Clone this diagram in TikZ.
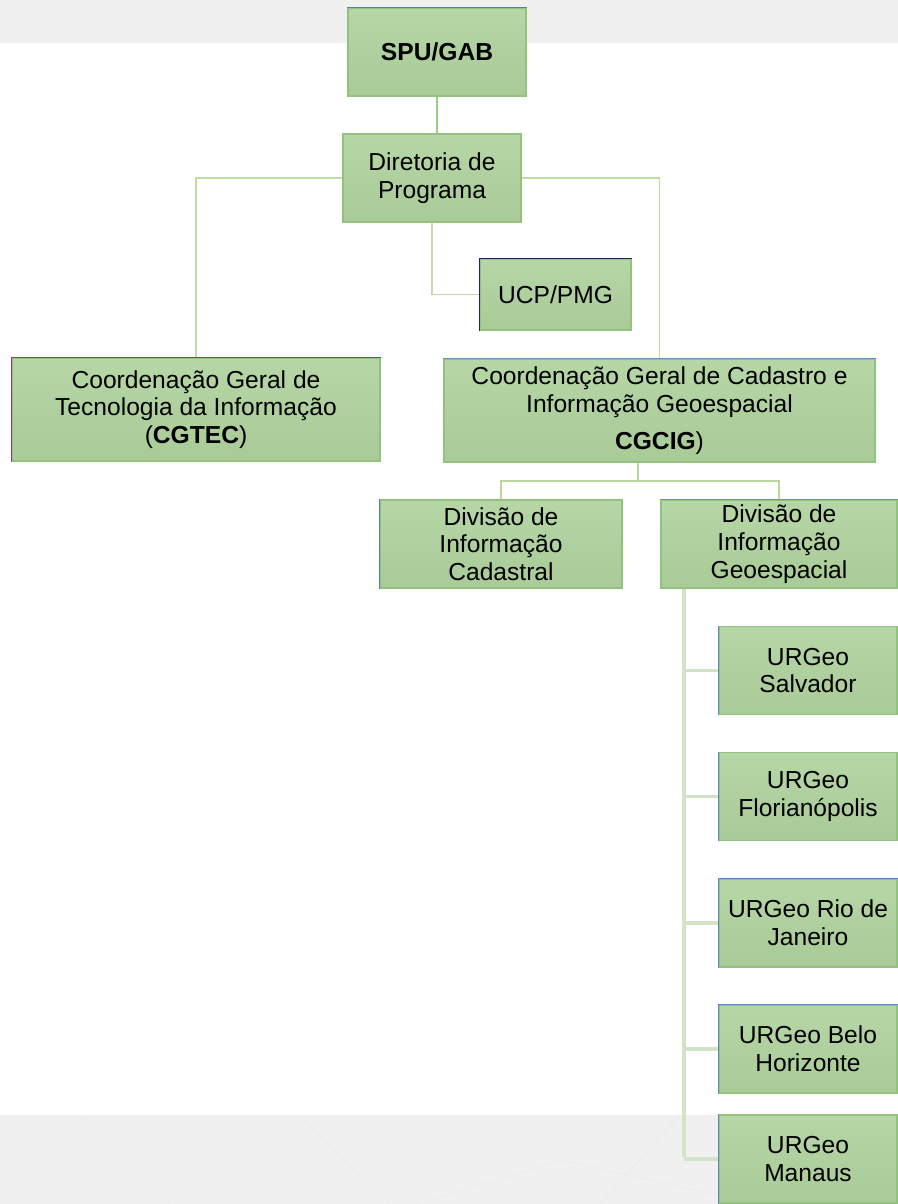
\documentclass[tikz,border=0pt]{standalone}
\usepackage{fontspec}
\setmainfont{Liberation Sans}

\definecolor{boxtop}{HTML}{B6D6A6}
\definecolor{boxbot}{HTML}{A9CB97}
\definecolor{boxline}{HTML}{93C27E}
\definecolor{linkgreen}{HTML}{C2DCA6}
\definecolor{trunkgreen}{HTML}{9CCB84}
\definecolor{spinegreen}{HTML}{D3E3C6}
\definecolor{edgeblue}{HTML}{4F7BD6}
\definecolor{edgenavy}{HTML}{1F2A44}
\definecolor{edgeplum}{HTML}{8E3A7A}
\definecolor{bandgray}{HTML}{F0F0F0}

\begin{document}
\begin{tikzpicture}[x = 0.02cm, y = -0.02cm,
	box/.style = {draw = boxline, line width = 0.8pt, top color = boxtop, bottom color = boxbot, align = center, inner sep = 2pt, font = \fontsize{14}{15.8}\selectfont},
	link/.style = {draw = linkgreen, line width = 0.7pt},
	trunk/.style = {draw = trunkgreen, line width = 1.6pt},
	spine/.style = {draw = spinegreen, line width = 1.8pt},
	rim/.style = {line width = 0.9pt}]

	% Page and background bands

	\useasboundingbox (0, 0) rectangle (898, 1204);
	\fill [white] (0, 0) rectangle (898, 1204);
	\fill [bandgray] (0, 0) rectangle (898, 43);
	\fill [bandgray] (0, 1115) rectangle (898, 1204);
	\draw [white!85!gray, line width = 0.6pt] (80, 1115) -- (170, 1204) (300, 1115) -- (390, 1204) (420, 1204) -- (560, 1160) -- (760, 1204) (600, 1204) -- (680, 1115);

	% Top levels

	\node [box, minimum width = 3.56cm, minimum height = 1.76cm, font = \fontsize{14}{15.8}\selectfont\bfseries] (spu) at (437, 52) {SPU/GAB};
	\node [box, minimum width = 3.56cm, minimum height = 1.76cm] (dir) at (432, 178) {Diretoria de\\Programa};
	\node [box, minimum width = 3.02cm, minimum height = 1.42cm] (ucp) at (555.5, 294.5) {UCP/PMG};

	% Coordinations

	\node [box, minimum width = 7.36cm, minimum height = 2.06cm] (cgtec) at (196, 409.5) {Coordenação Geral de\\Tecnologia da Informação\\(\textbf{CGTEC})};
	\node [box, minimum width = 8.62cm, minimum height = 2.06cm] (cgcig) at (659.5, 410.5) {Coordenação Geral de Cadastro e\\Informação Geoespacial\\[5pt]\textbf{CGCIG})};

	% Divisions

	\node [box, minimum width = 4.84cm, minimum height = 1.76cm] (divcad) at (501, 544) {Divisão de\\Informação\\Cadastral};
	\node [box, minimum width = 4.72cm, minimum height = 1.76cm] (divgeo) at (779, 544) {Divisão de\\Informação\\Geoespacial};

	% Regional units

	\node [box, minimum width = 3.56cm, minimum height = 1.76cm] (salv) at (808, 670.5) {URGeo\\Salvador};
	\node [box, minimum width = 3.56cm, minimum height = 1.76cm] (flor) at (808, 796.5) {URGeo\\Florianópolis};
	\node [box, minimum width = 3.56cm, minimum height = 1.76cm] (rio) at (808, 923) {URGeo Rio de\\Janeiro};
	\node [box, minimum width = 3.56cm, minimum height = 1.76cm] (belo) at (808, 1049) {URGeo Belo\\Horizonte};
	\node [box, minimum width = 3.56cm, minimum height = 1.76cm] (man) at (808, 1159) {URGeo\\Manaus};

	% Coloured box rims

	\draw [rim, edgeblue] (spu.north west) -- (spu.north east);
	\draw [rim, edgenavy] (ucp.south west) -- (ucp.north west) -- (ucp.north east);
	\draw [rim, edgeplum] (cgtec.south west) -- (cgtec.north west) -- (cgtec.north east);
	\draw [rim, edgeblue!70!boxline] (cgcig.north west) -- (cgcig.north east);
	\draw [rim, edgeblue] (divcad.south west) -- (divcad.north west);
	\draw [rim, edgeblue!60!boxline] (divgeo.north west) -- (divgeo.north east);
	\foreach \u in {salv, flor, man}
		\draw [rim, edgeblue!80!boxline] (\u.south west) -- (\u.north west);
	\foreach \u in {rio, belo}
		\draw [rim, edgeblue!80!boxline] (\u.south west) -- (\u.north west) -- (\u.north east);

	% Connectors

	\coordinate (split) at (638, 481);
	\coordinate (spine) at (684, 1157);

	\draw [trunk] (spu.south) -- (spu.south |- dir.north);
	\draw [link] (dir.west) -| (cgtec.north);
	\draw [link] (dir.east) -| (cgcig.north);
	\draw [link] (dir.south) |- (ucp.west);
	\draw [trunk, draw = linkgreen!70!trunkgreen] (split |- cgcig.south) -- (split);
	\draw [trunk, draw = linkgreen!70!trunkgreen] (divcad.north) |- (split) -| (divgeo.north);
	\draw [spine] (spine |- divgeo.south) -- (spine);
	\foreach \u in {salv, flor, rio, belo, man}
		\draw [spine] (spine |- \u.west) -- (\u.west);

\end{tikzpicture}
\end{document}
